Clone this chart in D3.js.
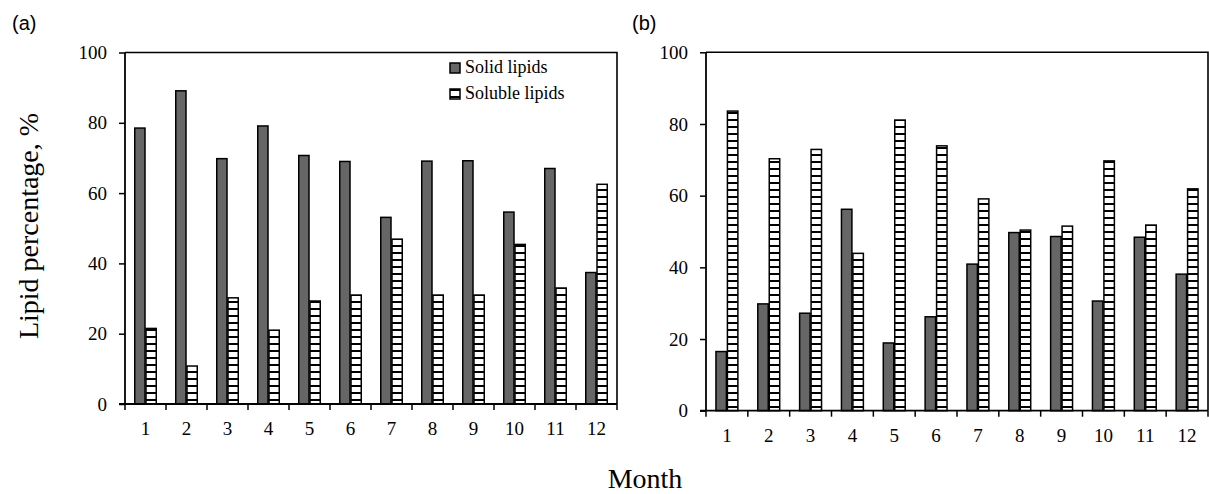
<!DOCTYPE html>
<html>
<head>
<meta charset="utf-8">
<script src="https://cdn.jsdelivr.net/npm/d3@7"></script>
<style>
  body { margin: 0; background: #fff; }
  svg text { fill: #000; }
</style>
</head>
<body>
<div id="chart"></div>
<script>
var months = ["1","2","3","4","5","6","7","8","9","10","11","12"];
var yTicks = [0, 20, 40, 60, 80, 100];

// panel (a)
var solidA   = [78.5, 89.1, 69.8, 79.1, 70.7, 69.0, 53.1, 69.1, 69.2, 54.6, 67.0, 37.4];
var solubleA = [21.5, 10.8, 30.2, 21.0, 29.3, 31.0, 46.9, 31.0, 31.0, 45.4, 33.0, 62.5];
// panel (b)
var solidB   = [16.5, 29.8, 27.2, 56.2, 18.9, 26.2, 40.9, 49.7, 48.6, 30.6, 48.4, 38.1];
var solubleB = [83.6, 70.3, 72.9, 43.9, 81.1, 73.9, 59.1, 50.4, 51.5, 69.7, 51.8, 61.9];

var seriesNames = ["Solid lipids", "Soluble lipids"];

var W = 1209, H = 494;
var serif = "'Liberation Serif', 'Times New Roman', serif";
var sans = "'Liberation Sans', Arial, sans-serif";
var grey = "#666666";

var svg = d3.select("#chart").append("svg")
    .attr("width", W)
    .attr("height", H);

// horizontal ladder pattern for the soluble bars
var defs = svg.append("defs");
var pat = defs.append("pattern")
    .attr("id", "stripes")
    .attr("patternUnits", "userSpaceOnUse")
    .attr("width", 12)
    .attr("height", 7);
pat.append("rect").attr("width", 12).attr("height", 7).attr("fill", "#fff");
pat.append("rect").attr("width", 12).attr("height", 2).attr("fill", "#000");

function drawPanel(opts) {
  var g = svg.append("g");

  var x = d3.scaleBand().domain(months).range([opts.left, opts.right]).paddingInner(0).paddingOuter(0);
  var y = d3.scaleLinear().domain([0, 100]).range([opts.bottom, opts.top]);
  var bw = x.bandwidth() * 0.25;

  // box top + right
  g.append("path")
      .attr("d", "M" + opts.left + "," + y(100) + "H" + opts.right + "V" + y(0))
      .attr("fill", "none")
      .attr("stroke", "#000")
      .attr("stroke-width", 1.6);

  // bars
  g.selectAll(".solid")
    .data(opts.solid)
    .enter().append("rect")
      .attr("class", "solid")
      .attr("x", function(d, i) { return x(months[i]) + x.bandwidth() / 2 - bw - 0.5; })
      .attr("y", function(d) { return y(d); })
      .attr("width", bw)
      .attr("height", function(d) { return y(0) - y(d); })
      .attr("fill", grey)
      .attr("stroke", "#000")
      .attr("stroke-width", 1.5);

  g.selectAll(".soluble")
    .data(opts.soluble)
    .enter().append("rect")
      .attr("class", "soluble")
      .attr("x", function(d, i) { return x(months[i]) + x.bandwidth() / 2 + 0.5; })
      .attr("y", function(d) { return y(d); })
      .attr("width", bw)
      .attr("height", function(d) { return y(0) - y(d); })
      .attr("fill", "url(#stripes)")
      .attr("stroke", "#000")
      .attr("stroke-width", 1.5);

  // y axis
  var yAxis = g.append("g")
      .attr("transform", "translate(" + opts.left + ",0)")
      .call(d3.axisLeft(y).tickValues(yTicks).tickSize(6).tickPadding(12));
  yAxis.select(".domain").attr("stroke-width", 1.8).attr("d", "M0," + y(100) + "V" + y(0));
  yAxis.selectAll(".tick line").attr("stroke-width", 1.5);
  yAxis.selectAll("text")
      .style("font-family", serif)
      .style("font-size", "19px");

  // x axis: ticks between categories
  var xAxis = g.append("g")
      .attr("transform", "translate(0," + y(0) + ")");
  xAxis.append("line")
      .attr("x1", opts.left - 6).attr("x2", opts.right)
      .attr("stroke", "#000").attr("stroke-width", 1.8);
  var bounds = months.map(function(m) { return x(m); }).concat([opts.right]);
  xAxis.selectAll(".xt")
    .data(bounds)
    .enter().append("line")
      .attr("x1", function(d) { return d; })
      .attr("x2", function(d) { return d; })
      .attr("y1", 0).attr("y2", 6)
      .attr("stroke", "#000").attr("stroke-width", 1.5);
  xAxis.selectAll(".xl")
    .data(months)
    .enter().append("text")
      .attr("x", function(d) { return x(d) + x.bandwidth() / 2; })
      .attr("y", 31)
      .attr("text-anchor", "middle")
      .style("font-family", serif)
      .style("font-size", "19px")
      .text(function(d) { return d; });

  // panel letter
  g.append("text")
      .attr("x", opts.labelX)
      .attr("y", 30)
      .style("font-family", sans)
      .style("font-size", "20px")
      .text(opts.label);

  return g;
}

var gA = drawPanel({ left: 125, right: 617, top: 52.5, bottom: 404,
                     solid: solidA, soluble: solubleA, label: "(a)", labelX: 12 });
drawPanel({ left: 706, right: 1208, top: 52.3, bottom: 410.7,
            solid: solidB, soluble: solubleB, label: "(b)", labelX: 632 });

// legend in panel (a)
var legend = gA.selectAll(".legend")
  .data(seriesNames)
  .enter().append("g")
    .attr("class", "legend")
    .attr("transform", function(d, i) { return "translate(450," + (63 + i * 26) + ")"; });
legend.append("rect")
    .attr("width", 10).attr("height", 10)
    .attr("fill", function(d, i) { return i === 0 ? grey : "url(#stripes)"; })
    .attr("stroke", "#000")
    .attr("stroke-width", 1.5);
legend.append("text")
    .attr("x", 15)
    .attr("y", 10)
    .style("font-family", serif)
    .style("font-size", "18px")
    .text(function(d) { return d; });

// axis titles
svg.append("text")
    .attr("transform", "translate(38,226) rotate(-90)")
    .attr("text-anchor", "middle")
    .style("font-family", serif)
    .style("font-size", "28px")
    .text("Lipid percentage, %");

svg.append("text")
    .attr("x", 645)
    .attr("y", 488)
    .attr("text-anchor", "middle")
    .style("font-family", serif)
    .style("font-size", "28px")
    .text("Month");
</script>
</body>
</html>
